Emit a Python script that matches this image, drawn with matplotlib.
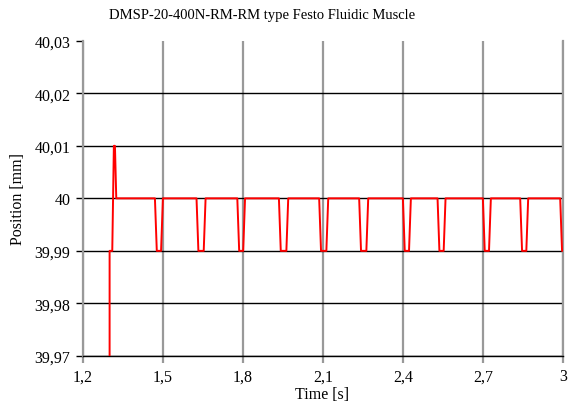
import matplotlib
matplotlib.use("Agg")
import matplotlib.pyplot as plt

time_s = [1.300, 1.300, 1.310, 1.316, 1.320, 1.325,
          1.470, 1.477, 1.493, 1.500,
          1.626, 1.633, 1.653, 1.660,
          1.779, 1.786, 1.801, 1.808,
          1.935, 1.942, 1.963, 1.970,
          2.086, 2.093, 2.113, 2.120,
          2.236, 2.243, 2.263, 2.270,
          2.400, 2.407, 2.423, 2.430,
          2.530, 2.537, 2.553, 2.560,
          2.700, 2.707, 2.723, 2.730,
          2.840, 2.847, 2.863, 2.870,
          2.990, 2.997, 3.000]
position_mm = [39.97, 39.99, 39.99, 40.01, 40.01, 40.00,
               40.00, 39.99, 39.99, 40.00,
               40.00, 39.99, 39.99, 40.00,
               40.00, 39.99, 39.99, 40.00,
               40.00, 39.99, 39.99, 40.00,
               40.00, 39.99, 39.99, 40.00,
               40.00, 39.99, 39.99, 40.00,
               40.00, 39.99, 39.99, 40.00,
               40.00, 39.99, 39.99, 40.00,
               40.00, 39.99, 39.99, 40.00,
               40.00, 39.99, 39.99, 40.00,
               40.00, 39.99, 39.99]

x_ticks = [1.2, 1.5, 1.8, 2.1, 2.4, 2.7, 3.0]
x_labels = ["1,2", "1,5", "1,8", "2,1", "2,4", "2,7", "3"]
y_ticks = [39.97, 39.98, 39.99, 40.00, 40.01, 40.02, 40.03]
y_labels = ["39,97", "39,98", "39,99", "40", "40,01", "40,02", "40,03"]

plt.rcParams["font.family"] = ["Liberation Serif", "DejaVu Serif"]

fig = plt.figure(figsize=(5.72, 4.06), dpi=100)
ax = fig.add_axes([0.145, 0.121, 0.839, 0.776])

ax.plot(time_s, position_mm, color="red", lw=1.4, zorder=3)

ax.set_xlim(1.2, 3.0)
ax.set_ylim(39.97, 40.03)
ax.set_xticks(x_ticks)
ax.set_xticklabels(x_labels)
ax.set_yticks(y_ticks)
ax.set_yticklabels(y_labels)

# grid: black horizontals, grey verticals
ax.grid(axis="y", color="black", lw=1.0)
ax.grid(axis="x", color="#999999", lw=1.6)
ax.get_ygridlines()[-1].set_visible(False)
ax.set_axisbelow(True)

ax.spines["top"].set_visible(False)
ax.spines["right"].set_color("#999999")
ax.spines["right"].set_linewidth(1.6)
ax.spines["left"].set_color("#999999")
ax.spines["left"].set_linewidth(1.6)
ax.spines["bottom"].set_color("black")
ax.spines["bottom"].set_linewidth(1.0)

ax.tick_params(axis="y", direction="out", length=5, width=1.0, color="black",
               labelsize=11.5, pad=4)
ax.tick_params(axis="x", direction="out", length=5, width=1.6, color="#999999",
               labelsize=11.5, pad=4)

fig.text(262 / 572, 1 - 16 / 406, "DMSP-20-400N-RM-RM type Festo Fluidic Muscle",
         fontsize=10.5, ha="center", va="center")
fig.text(322 / 572, 1 - 395 / 406, "Time [s]", fontsize=11.5,
         ha="center", va="center")
ax.set_ylabel("Position [mm]", fontsize=11.5, labelpad=6)

fig.savefig("out.png", dpi=100)
